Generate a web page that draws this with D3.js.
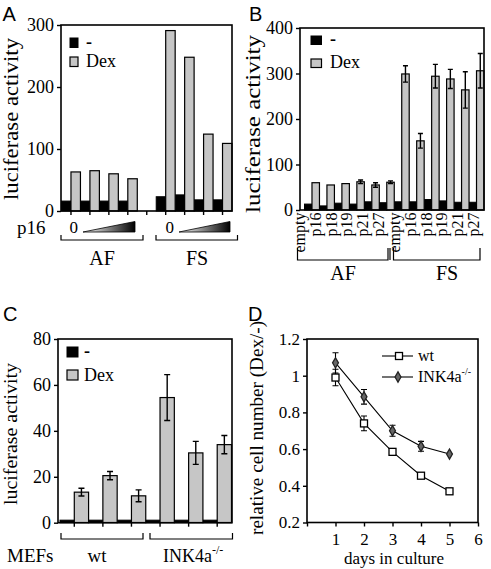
<!DOCTYPE html>
<html><head><meta charset="utf-8">
<script src="https://cdn.jsdelivr.net/npm/d3@7"></script>
<style>
body{margin:0;background:#fff}
svg text{font-family:"Liberation Serif","Times New Roman",serif;fill:#000}
svg text.sans{font-family:"Liberation Sans",Arial,sans-serif}
</style>
</head><body><svg id="c" width="491" height="569" xmlns="http://www.w3.org/2000/svg"></svg>
<script>
// ---------- DATA ----------
// Panel A
const aCats = ["AF-0","AF-1","AF-2","AF-3","gap","FS-0","FS-1","FS-2","FS-3"];
const aMinus = [16,16,16,16,null,23,26,18,18];
const aDex   = [63,65,60,52,null,291,248,124,109];
const aTicks = [0,100,200,300];
const aGroups = ["AF","FS"];
// Panel B
const bLabels = ["empty","p16","p18","p19","p21","p27","empty","p16","p18","p19","p21","p27"];
const bMinus = [13,9,15,13,18,16, 18,18,23,20,17,17];
const bDex   = [60,55,58,62,55,61, 299,152,294,288,264,306];
const bDexErr= [0,0,0,4,5,3, 18,16,26,21,40,38];
const bTicks = [0,100,200,300,400];
const bGroups = ["AF","FS"];
// Panel C
const cCats = ["wt-1","wt-2","wt-3","ko-1","ko-2","ko-3"];
const cMinus = [1.1,1.1,1.1,1.1,1.1,1.1];
const cDex   = [13.3,20.5,11.7,54.5,30.4,34];
const cDexErr= [1.7,1.8,2.6,10,5,4];
const cTicks = [0,20,40,60,80];
// Panel D
const dDays = [1,2,3,4,5];
const dWt = [0.99,0.74,0.585,0.455,0.37];
const dWtErr = [0.045,0.04,0,0,0];
const dKo = [1.07,0.885,0.70,0.615,0.573];
const dKoErr = [0.055,0.04,0.03,0.027,0];
const dYTicks = [0.2,0.4,0.6,0.8,1,1.2];
const dYLabels = ["0.2","0.4","0.6","0.8","1","1.2"];
const dXTicks = [0,1,2,3,4,5,6];

// ---------- DRAW ----------
const svg = d3.select("#c");
const GRAY = "#c6c6c6";

function txt(x,y,s,size,opts={}){
  const t = svg.append("text").attr("x",x).attr("y",y).text(s)
    .attr("font-size",size).attr("fill","#000");
  if(opts.sans) t.attr("class","sans");
  if(opts.anchor) t.attr("text-anchor",opts.anchor);
  return t;
}
function box(x0,x1,y0,y1){
  svg.append("rect").attr("x",x0).attr("y",y0).attr("width",x1-x0).attr("height",y1-y0)
    .attr("fill","none").attr("stroke","#000").attr("stroke-width",1.6);
}
function yAxis(y,x0,ticks,fmt,fs){
  const g = svg.append("g").attr("transform",`translate(${x0},0)`)
    .call(d3.axisLeft(y).tickValues(ticks).tickSize(4).tickPadding(3).tickFormat(fmt||d3.format("d")));
  g.attr("font-size",fs||18);
  g.select(".domain").remove();
  g.selectAll(".tick line").attr("stroke","#000").attr("stroke-width",1.4);
  g.selectAll(".tick text").attr("fill","#000");
  return g;
}
function xTicks(x,y0){
  const g = svg.append("g").attr("transform",`translate(0,${y0})`)
    .call(d3.axisBottom(x).tickSize(4).tickFormat(""));
  g.select(".domain").remove();
  g.selectAll(".tick line").attr("stroke","#000").attr("stroke-width",1.4);
}
function yTitle(cx,cy,s,size,len){
  svg.append("text").attr("transform",`translate(${cx},${cy}) rotate(-90)`)
    .attr("text-anchor","middle").attr("font-size",size)
    .attr("textLength",len).attr("lengthAdjust","spacingAndGlyphs").text(s);
}
function bracket(x0,x1,yb,h){
  svg.append("path").attr("d",`M${x0},${yb-h}V${yb}H${x1}V${yb-h}`)
    .attr("fill","none").attr("stroke","#000").attr("stroke-width",1.2);
}
function legend(x,y1,y2,w,h,tx){
  svg.append("rect").attr("x",x).attr("y",y1).attr("width",w).attr("height",h).attr("fill","#000").attr("stroke","#000");
  svg.append("rect").attr("x",x).attr("y",y2).attr("width",w).attr("height",h).attr("fill",GRAY).attr("stroke","#000").attr("stroke-width",1.2);
  txt(tx,y1+h,"-",18).attr("font-weight","bold");
  txt(tx,y2+h+0.5,"Dex",18);
}
function bars(x,y,idx,keys,minus,dex,err,capw){
  const bw = x.bandwidth()/2;
  const items = idx.map(i=>({k:keys[i],m:minus[i],d:dex[i],e:err?err[i]:0}));
  const g = svg.append("g");
  g.selectAll("rect.m").data(items.filter(d=>d.m!=null)).join("rect")
    .attr("x",d=>x(d.k)).attr("y",d=>y(d.m)).attr("width",bw).attr("height",d=>y(0)-y(d.m))
    .attr("fill","#000").attr("stroke","#000").attr("stroke-width",1);
  g.selectAll("rect.d").data(items.filter(d=>d.d!=null)).join("rect")
    .attr("x",d=>x(d.k)+bw).attr("y",d=>y(d.d)).attr("width",bw).attr("height",d=>y(0)-y(d.d))
    .attr("fill",GRAY).attr("stroke","#000").attr("stroke-width",1.2);
  const ebs = items.filter(d=>d.e);
  const path = d => {
    const cx = x(d.k)+bw*1.5, t=y(d.d+d.e), b=y(d.d-d.e);
    return `M${cx},${t}V${b}M${cx-capw/2},${t}H${cx+capw/2}M${cx-capw/2},${b}H${cx+capw/2}`;
  };
  g.selectAll("path.e").data(ebs).join("path").attr("d",path)
    .attr("fill","none").attr("stroke","#000").attr("stroke-width",1.4);
}

// ===== Panel A =====
{
  const x = d3.scaleBand().domain(aCats).range([61.5,232]).padding(0);
  const y = d3.scaleLinear().domain([0,300]).range([211,25]);
  bars(x,y,d3.range(aCats.length),aCats,aMinus,aDex,null,0);
  box(61,232,25,211);
  yAxis(y,61,aTicks);
  xTicks(x,211);
  legend(70,38,57,8,9.5,86);
  txt(2.5,21,"A",20,{sans:true});
  yTitle(18,119,"luciferase activity",21,162);
  txt(17,234,"p16",19);
  const defs = svg.append("defs");
  const gr = defs.append("linearGradient").attr("id","wedge").attr("x1","0").attr("x2","1").attr("y1","0").attr("y2","0");
  gr.append("stop").attr("offset","0").attr("stop-color","#fff");
  gr.append("stop").attr("offset","1").attr("stop-color","#000");
  [[69.5,83,135],[165.5,179,230]].forEach(([z,w0,w1])=>{
    txt(z,233,"0",17);
    svg.append("path").attr("d",`M${w0},232L${w1},221.5V232Z`).attr("fill","url(#wedge)").attr("stroke","#000").attr("stroke-width",0.8);
  });
  bracket(61,143,240,5);
  bracket(156,237.5,240,5);
  txt(102,265,aGroups[0],20,{anchor:"middle"});
  txt(197,265,aGroups[1],20,{anchor:"middle"});
}

// ===== Panel B =====
{
  const keys = bLabels.map((l,i)=>i+"");
  const x = d3.scaleBand().domain(keys).range([304.5,484]).padding(0);
  const y = d3.scaleLinear().domain([0,400]).range([210,28]);
  bars(x,y,d3.range(keys.length),keys,bMinus,bDex,bDexErr,5);
  box(300,484,28,210);
  yAxis(y,300,bTicks);
  legend(311,36,59,10.5,8.5,330);
  txt(249,21,"B",20,{sans:true});
  yTitle(260,124,"luciferase activity",22,178);
  const lx = d3.scalePoint().domain(keys).range([305,479]);
  svg.append("g").selectAll("text").data(keys).join("text")
    .attr("transform",k=>`translate(${lx(k)},212.5) rotate(-90)`)
    .attr("text-anchor","end").attr("font-size",16)
    .text(k=>bLabels[+k]);
  bracket(297.5,388,260,12);
  svg.append("line").attr("x1",390).attr("x2",390).attr("y1",248).attr("y2",260).attr("stroke","#000").attr("stroke-width",1.2);
  bracket(393.5,480,260,12);
  txt(343,280,bGroups[0],20,{anchor:"middle"});
  txt(447,280,bGroups[1],20,{anchor:"middle"});
}

// ===== Panel C =====
{
  const x = d3.scaleBand().domain(cCats).range([60,231.5]).padding(0);
  const y = d3.scaleLinear().domain([0,80]).range([522.7,339]);
  bars(x,y,d3.range(cCats.length),cCats,cMinus,cDex,cDexErr,6);
  box(58,232,339,522.7);
  yAxis(y,58,cTicks);
  xTicks(x,522.7);
  legend(67,347,370,11,10,84);
  txt(3,321,"C",20,{sans:true});
  yTitle(17,434,"luciferase activity",18,142);
  bracket(61,143,539,6);
  bracket(150,232.5,539,6);
  txt(7,562,"MEFs",19);
  txt(97,562,"wt",19,{anchor:"middle"});
  const t = txt(163,562,"INK4a",18);
  t.append("tspan").attr("dy",-8).attr("font-size",12).text("-/-");
}

// ===== Panel D =====
{
  const x = d3.scaleLinear().domain([0,6]).range([307,478]);
  const y = d3.scaleLinear().domain([0.2,1.2]).range([522.5,339]);
  box(307,478,339,522.5);
  yAxis(y,307,dYTicks,(d,i)=>dYLabels[i],17);
  const gx = svg.append("g").attr("transform","translate(0,522.5)")
    .call(d3.axisBottom(x).tickValues(dXTicks).tickSize(4).tickPadding(6).tickFormat(d=>d===0?"":d));
  gx.attr("font-size",17);
  gx.select(".domain").remove();
  gx.selectAll(".tick line").attr("stroke","#000").attr("stroke-width",1.4);
  gx.selectAll(".tick text").attr("fill","#000");
  txt(248,321,"D",20,{sans:true});
  yTitle(263,428,"relative cell number (Dex/-)",19,214);
  txt(394,564,"days in culture",17,{anchor:"middle"});

  const line = d3.line().x(d=>x(d[0])).y(d=>y(d[1]));
  const series = [
    {v:dWt,e:dWtErr,sym:"sq"},
    {v:dKo,e:dKoErr,sym:"dm"}
  ];
  function drawMarks(g,xy,sym){
    if(sym==="sq"){
      g.selectAll("rect").data(xy).join("rect").attr("x",d=>d[0]-3.5).attr("y",d=>d[1]-3.5)
        .attr("width",7).attr("height",7).attr("fill","#fff").attr("stroke","#000").attr("stroke-width",1.3);
    } else {
      g.selectAll("path").data(xy).join("path").attr("transform",d=>`translate(${d[0]},${d[1]})`)
        .attr("d",d3.symbol(d3.symbolDiamond,30)).attr("fill","#666").attr("stroke","#222").attr("stroke-width",1.3);
    }
  }
  series.forEach(s=>{
    const pts = dDays.map((d,i)=>[d,s.v[i],s.e[i]]);
    svg.append("path").datum(pts).attr("d",line).attr("fill","none").attr("stroke","#000").attr("stroke-width",1.1);
    svg.append("g").selectAll("path").data(pts.filter(p=>p[2]>0)).join("path")
      .attr("d",p=>{const cx=x(p[0]),t=y(p[1]+p[2]),b=y(p[1]-p[2]);return `M${cx},${t}V${b}M${cx-3},${t}H${cx+3}M${cx-3},${b}H${cx+3}`;})
      .attr("stroke","#000").attr("stroke-width",1.1).attr("fill","none");
    drawMarks(svg.append("g"),pts.map(p=>[x(p[0]),y(p[1])]),s.sym);
  });
  svg.append("line").attr("x1",382).attr("x2",413).attr("y1",356).attr("y2",356).attr("stroke","#000").attr("stroke-width",1.1);
  drawMarks(svg.append("g"),[[399,356]],"sq");
  txt(418,361,"wt",16);
  svg.append("line").attr("x1",382).attr("x2",413).attr("y1",377).attr("y2",377).attr("stroke","#000").attr("stroke-width",1.1);
  drawMarks(svg.append("g"),[[398,377]],"dm");
  const t2 = txt(418,382,"INK4a",16);
  t2.append("tspan").attr("dy",-7).attr("font-size",10).text("-/-");
}
</script></body></html>
